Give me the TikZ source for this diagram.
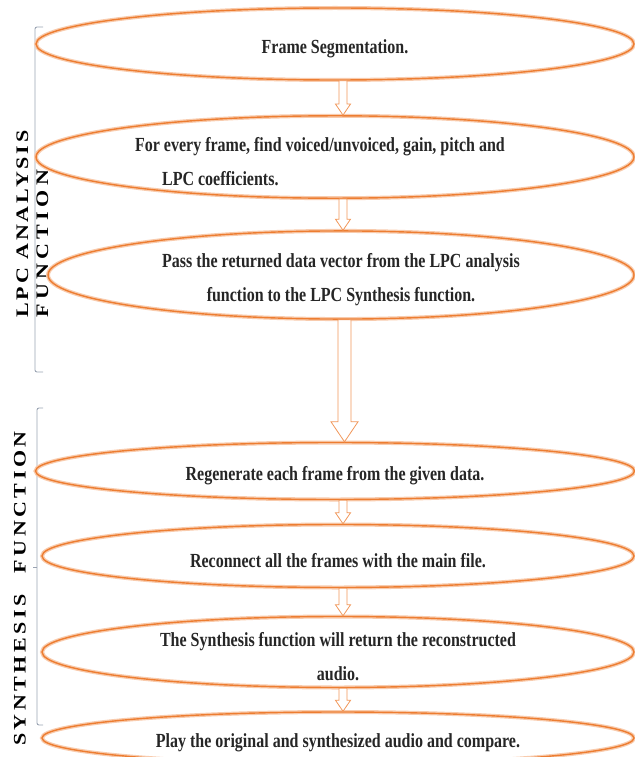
\documentclass[tikz,border=0pt]{standalone}
\usepackage{fontspec}
\usepackage{graphicx}
\setmainfont{Liberation Serif}[FakeStretch=0.8]
\newfontfamily\sidefont{Liberation Serif}
\usetikzlibrary{shapes.geometric,calc}
\definecolor{flow}{HTML}{ED7D31}
\definecolor{glow}{HTML}{F8CBAD}
\definecolor{bracegray}{HTML}{9AA3B2}
\newcommand{\side}[1]{\scalebox{1}[0.8]{\sidefont\bfseries\fontsize{22}{25}\selectfont #1}}
\newcommand{\sink}{\rule{0pt}{24pt}}

\begin{document}
\begin{tikzpicture}[x=1pt,y=-1pt]
    \tikzstyle{stage}=[ellipse, draw=flow, line width=1.4pt, preaction={draw=glow, line width=4pt},
        inner sep=0pt, align=center, text=black!85, font=\bfseries\fontsize{20}{34}\selectfont]
    \tikzstyle{bracket}=[draw=bracegray, line width=0.9pt, rounded corners=2pt]
    \tikzstyle{smallarrow}=[draw=flow!80, fill=white, line width=0.8pt,
        to path={let \p1=(\tikztostart), \p2=(\tikztotarget) in
            (\x1-4pt,\y1) -- (\x1+4pt,\y1) -- (\x1+4pt,\y2+11pt) -- (\x1+7.5pt,\y2+11pt)
            -- (\x1,\y2) -- (\x1-7.5pt,\y2+11pt) -- (\x1-4pt,\y2+11pt) -- cycle}]
    \tikzstyle{bigarrow}=[draw=flow!80, fill=white, line width=0.8pt,
        to path={let \p1=(\tikztostart), \p2=(\tikztotarget) in
            (\x1-6.5pt,\y1) -- (\x1+6.5pt,\y1) -- (\x1+6.5pt,\y2+20pt) -- (\x1+13.5pt,\y2+20pt)
            -- (\x1,\y2) -- (\x1-13.5pt,\y2+20pt) -- (\x1-6.5pt,\y2+20pt) -- cycle}]
    \useasboundingbox (0,0) rectangle (634,757);

    \draw[bracket] (43,27) -- (35,27) -- (35,372) -- (43,372);
    \draw[bracket] (43,408) -- (37,408) -- (37,725) -- (43,725);
    \draw[bracket] (37,567) -- (33,567);
    \node[rotate=90, anchor=west, inner sep=0pt] (lpc) at (34,318)
        {\side{\begin{tabular}{@{}l@{}}\addfontfeature{LetterSpace=13}LPC ANALYSIS\\
        \addfontfeature{LetterSpace=20}FUNCTION\end{tabular}}};
    \node[rotate=90, anchor=east, inner sep=0pt] (syn) at (20,431)
        {\side{\addfontfeature{LetterSpace=16}SYNTHESIS\hspace{12pt} FUNCTION}};

    \node[stage, minimum width=598pt, minimum height=72pt] (seg) at (335,44) {\sink Frame Segmentation.};
    \node[stage, minimum width=598pt, minimum height=79pt, align=left] (find) at (335,157)
        {\sink For every frame, find voiced/unvoiced, gain, pitch and\hspace*{30pt}\\\hspace*{27pt}LPC coefficients.};
    \node[stage, minimum width=586pt, minimum height=84pt] (pass) at (341,275)
        {\sink Pass the returned data vector from the LPC analysis\\function to the LPC Synthesis function.};
    \node[stage, minimum width=599pt, minimum height=57pt] (regen) at (335,471) {\sink Regenerate each frame from the given data.};
    \node[stage, minimum width=592pt, minimum height=63pt] (recon) at (338,556) {\sink Reconnect all the frames with the main file.};
    \node[stage, minimum width=592pt, minimum height=71pt, inner ysep=-10pt] (synth) at (338,652)
        {\sink The Synthesis function will return the reconstructed\\audio.};
    \node[stage, minimum width=592pt, minimum height=52pt] (play) at (338,738) {\sink Play the original and synthesized audio and compare.};

    \draw[smallarrow] ([xshift=8pt]seg.south) to (find.north);
    \draw[smallarrow] ([xshift=8pt]find.south) to (pass.north);
    \draw[bigarrow] ([xshift=3.5pt]pass.south) to (regen.north);
    \draw[smallarrow] ([xshift=8pt]regen.south) to (recon.north);
    \draw[smallarrow] ([xshift=5pt]recon.south) to (synth.north);
    \draw[smallarrow] ([xshift=5pt]synth.south) to (play.north);
\end{tikzpicture}
\end{document}
